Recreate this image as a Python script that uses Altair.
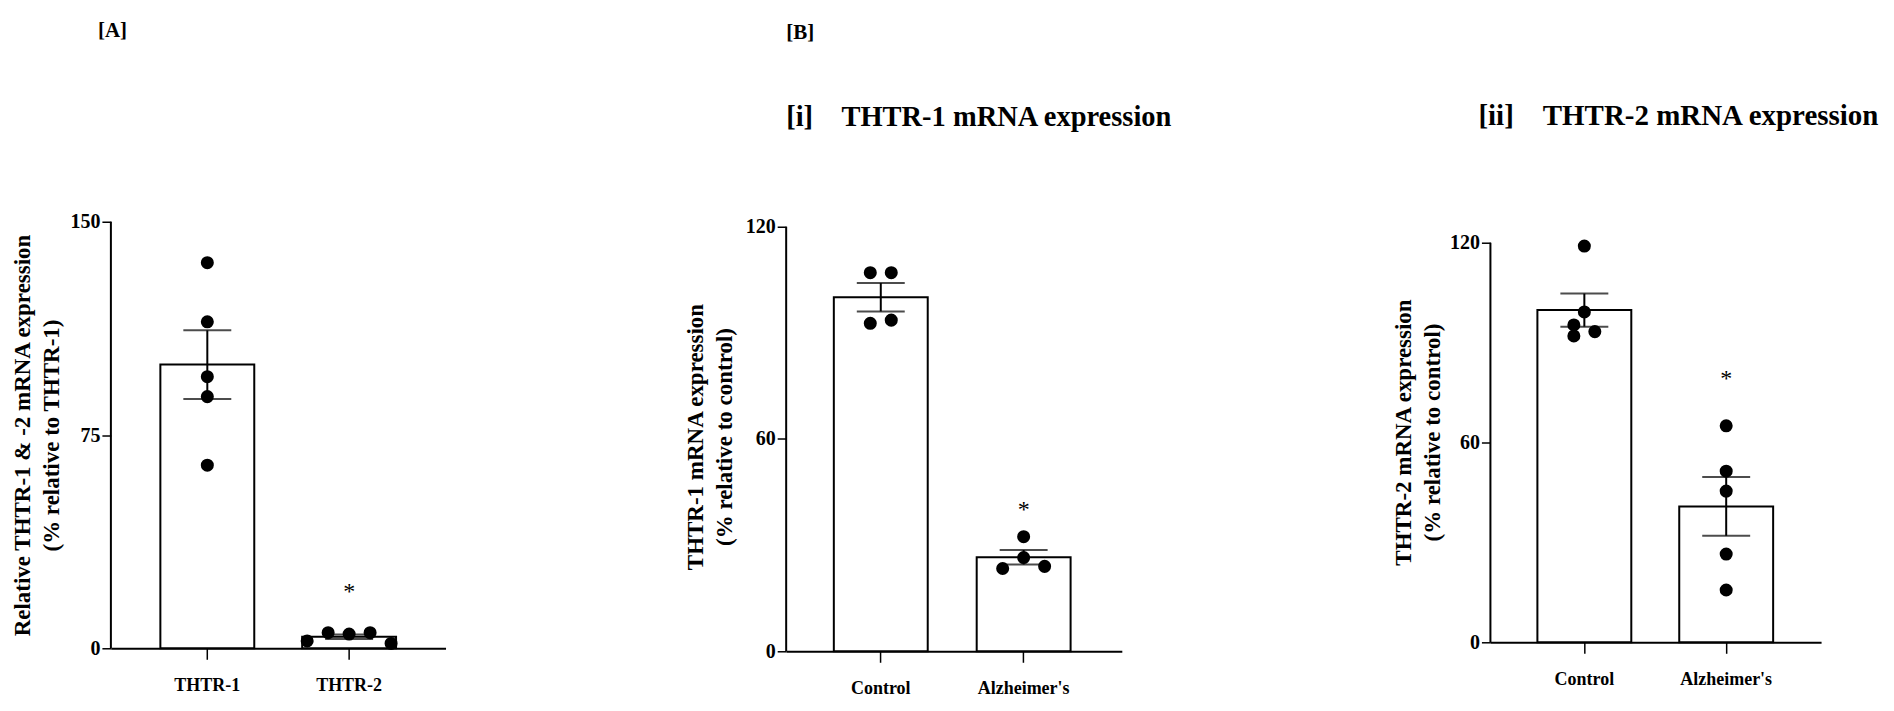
import altair as alt
import pandas as pd

FONT = "Liberation Serif"

# ---------------- data ----------------
# Panel [A]
a_groups = ["THTR-1", "THTR-2"]
a_thtr1 = [135.6, 114.8, 95.5, 88.5, 64.4]
a_thtr1_jit = [0, 0, 0, 0, 0]
a_thtr2 = [2.6, 5.5, 5.0, 5.5, 1.7]
a_thtr2_jit = [-2, -1, 0, 1, 2]
a_star_group = ["THTR-2"]
a_star_y = [19.9]

# Panel [B][i]  THTR-1
bi_groups = ["Control", "Alzheimer's"]
bi_control = [107.0, 107.0, 92.7, 93.6]
bi_control_jit = [-0.5, 0.5, -0.5, 0.5]
bi_alz = [32.4, 26.5, 23.4, 24.0]
bi_alz_jit = [0, 0, -1, 1]
bi_star_group = ["Alzheimer's"]
bi_star_y = [39.9]

# Panel [B][ii]  THTR-2
bii_groups = ["Control", "Alzheimer's"]
bii_control = [119.0, 99.2, 95.3, 92.0, 93.3]
bii_control_jit = [0, 0, -0.5, -0.5, 0.5]
bii_alz = [65.0, 51.4, 45.4, 26.5, 15.7]
bii_alz_jit = [0, 0, 0, 0, 0]
bii_star_group = ["Alzheimer's"]
bii_star_y = [79.0]

a_ticks = [0, 75, 150]
b_ticks = [0, 60, 120]


def points_df(groups, series, jits):
    rows = []
    for g, vals, js in zip(groups, series, jits):
        for v, j in zip(vals, js):
            rows.append({"group": g, "value": v, "jit": j})
    return pd.DataFrame(rows)


def panel(df, groups, star_g, star_y, ticks, ytop, width, height, pin, pout,
          align, ytitle, title, ytitle_pad):
    xenc = alt.X(
        "group:N", sort=groups,
        scale=alt.Scale(paddingInner=pin, paddingOuter=pout, align=align),
        axis=alt.Axis(title=None, labelAngle=0, domainColor="black",
                      domainWidth=2, tickColor="black", tickWidth=1.5,
                      tickSize=11, labelFont=FONT, labelFontSize=18,
                      labelFontWeight="bold", labelColor="black",
                      labelPadding=17),
    )
    yaxis = alt.Axis(values=ticks, domain=False, grid=False, tickColor="black",
                     tickWidth=1.5, tickSize=9, labelFont=FONT,
                     labelFontSize=20, labelFontWeight="bold",
                     labelColor="black", labelPadding=2, title=ytitle,
                     titleFont=FONT, titleFontSize=23, titleFontWeight="bold",
                     titleColor="black", titlePadding=ytitle_pad,
                     titleLineHeight=29)
    yscale = alt.Scale(domain=[0, ytop], nice=False, zero=True)

    base = alt.Chart(df)
    bars = base.mark_bar(fill="white", stroke="black", strokeWidth=2,
                         size=94).encode(
        x=xenc,
        y=alt.Y("value:Q", aggregate="mean", scale=yscale, axis=yaxis),
    )
    err = base.mark_errorbar(extent="stderr", ticks={"size": 48},
                             thickness=2, color="black").encode(
        x=xenc, y=alt.Y("value:Q", scale=yscale, axis=yaxis),
    )
    pts = base.mark_circle(size=170, color="black", opacity=1).encode(
        x=xenc,
        y=alt.Y("value:Q", scale=yscale, axis=yaxis),
        xOffset=alt.XOffset("jit:Q", scale=alt.Scale(domain=[-2, 2], range=[5, 89])),
    )
    star_df = pd.DataFrame({"group": star_g, "y": star_y})
    star = alt.Chart(star_df).mark_text(text="*", fontSize=24, font=FONT,
                                        color="black", baseline="middle").encode(
        x=xenc, y=alt.Y("y:Q", scale=yscale, axis=yaxis),
    )
    axis_df = pd.DataFrame({"y0": [ticks[0]], "y1": [ticks[-1]]})
    yline = alt.Chart(axis_df).mark_rule(color="black", strokeWidth=2).encode(
        x=alt.value(0),
        y=alt.Y("y0:Q", scale=yscale, axis=yaxis),
        y2="y1:Q",
    )
    return alt.layer(bars, err, pts, star, yline).properties(
        width=width, height=height, title=title)


dfA = points_df(a_groups, [a_thtr1, a_thtr2], [a_thtr1_jit, a_thtr2_jit])
dfBi = points_df(bi_groups, [bi_control, bi_alz], [bi_control_jit, bi_alz_jit])
dfBii = points_df(bii_groups, [bii_control, bii_alz], [bii_control_jit, bii_alz_jit])

NB = "\u00a0"

titleA = alt.TitleParams("[A]", anchor="start", frame="group", dx=-13,
                         offset=170.7, font=FONT, fontSize=21, fontWeight="bold",
                         color="black")
titleBi = alt.TitleParams("[B]", anchor="start", frame="group", dx=0,
                          offset=85.4, font=FONT, fontSize=21, fontWeight="bold",
                          color="black",
                          subtitle="[i]" + NB * 4 + "THTR-1 mRNA expression",
                          subtitleFont=FONT, subtitleFontSize=28.5,
                          subtitleFontWeight="bold", subtitleColor="black",
                          subtitlePadding=60)
titleBii = alt.TitleParams("[ii]" + NB * 4 + "THTR-2 mRNA expression",
                           anchor="start", frame="group", dx=-12, offset=90.4,
                           font=FONT, fontSize=29, fontWeight="bold",
                           color="black")

pA = panel(dfA, a_groups, a_star_group, a_star_y, a_ticks, 150, 335, 427,
           0.338, 0.349, 0.5,
           ["Relative THTR-1 & -2 mRNA expression", "(% relative to THTR-1)"],
           titleA, 6)
pBi = panel(dfBi, bi_groups, bi_star_group, bi_star_y, b_ticks, 121.41, 336, 430,
            0.3427, 0.346, 0.482,
            ["THTR-1 mRNA expression", "(% relative to control)"],
            titleBi, 9)
pBii = panel(dfBii, bii_groups, bii_star_group, bii_star_y, b_ticks, 126.3, 331, 421,
             0.338, 0.3345, 0.495,
             ["THTR-2 mRNA expression", "(% relative to control)"],
             titleBii, 5)

panelB = alt.hconcat(pBi, pBii, spacing=369, bounds="flush")
chart = alt.hconcat(pA, panelB, spacing=341, bounds="flush").configure_view(
    stroke=None
).properties(padding={"left": 4, "top": 11.6, "right": 5, "bottom": 5},
             background="white")

chart.save("out.html", embed_options={"renderer": "svg", "actions": False})
